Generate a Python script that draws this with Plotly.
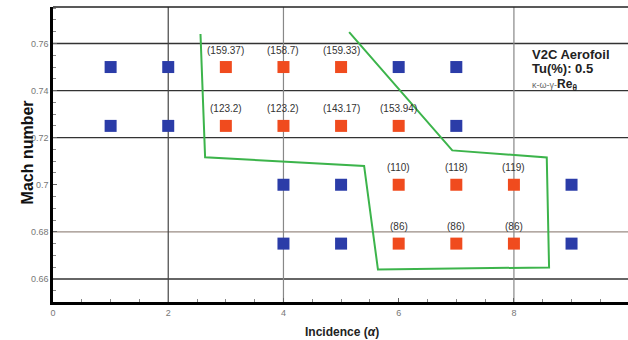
import plotly.graph_objects as go

# Test points (incidence, Mach) that do not meet the criterion (blue)
blue_inc = [1, 2, 6, 7, 1, 2, 7, 4, 5, 9, 4, 5, 9]
blue_mach = [0.75, 0.75, 0.75, 0.75, 0.725, 0.725, 0.725, 0.70, 0.70, 0.70, 0.675, 0.675, 0.675]

# Test points inside the region (red), with their labelled values
red_inc = [3, 4, 5, 3, 4, 5, 6, 6, 7, 8, 6, 7, 8]
red_mach = [0.75, 0.75, 0.75, 0.725, 0.725, 0.725, 0.725, 0.70, 0.70, 0.70, 0.675, 0.675, 0.675]
red_labels = ["(159.37)", "(158.7)", "(159.33)",
              "(123.2)", "(123.2)", "(143.17)", "(153.94)",
              "(110)", "(118)", "(119)",
              "(86)", "(86)", "(86)"]

# Green boundary polyline (incidence, Mach)
bound_inc = [2.56, 2.64, 5.40, 5.64, 8.61, 8.57, 6.93, 5.14]
bound_mach = [0.764, 0.7117, 0.708, 0.664, 0.6649, 0.7116, 0.7146, 0.7648]

x_ticks = [0, 2, 4, 6, 8]
x_ticktext = ["0", "2", "4", "6", "8"]
y_ticks = [0.66, 0.68, 0.70, 0.72, 0.74, 0.76]
y_ticktext = ["0.66", "0.68", "0.7", "0.72", "0.74", "0.76"]

FONT = "Arial, Liberation Sans, sans-serif"

fig = go.Figure()

fig.add_trace(go.Scatter(x=bound_inc, y=bound_mach, mode="lines",
                         line=dict(color="#3cb44b", width=2), hoverinfo="skip",
                         showlegend=False))
fig.add_trace(go.Scatter(x=blue_inc, y=blue_mach, mode="markers",
                         marker=dict(symbol="square", size=12, color="#2b3ca8",
                                     line=dict(width=0)),
                         showlegend=False))
fig.add_trace(go.Scatter(x=red_inc, y=red_mach, mode="markers",
                         marker=dict(symbol="square", size=12, color="#f04b1e",
                                     line=dict(width=0)),
                         showlegend=False))

for xi, yi, lab in zip(red_inc, red_mach, red_labels):
    fig.add_annotation(x=xi, y=yi, text=lab, showarrow=False, xref="x", yref="y",
                       yshift=17, font=dict(family=FONT, size=10, color="#333333"))

shapes = []
# horizontal grid lines
for yv, col in [(0.76, "#333333"), (0.74, "#333333"), (0.72, "#333333"),
                (0.68, "#9a8c84"), (0.66, "#333333")]:
    shapes.append(dict(type="line", xref="paper", yref="y", x0=0, x1=1, y0=yv, y1=yv,
                       line=dict(color=col, width=1.4), layer="below"))
# vertical grid lines
for xv, col in [(2, "#444444"), (4, "#888888"), (8, "#888888")]:
    shapes.append(dict(type="line", xref="x", yref="paper", x0=xv, x1=xv, y0=0, y1=1,
                       line=dict(color=col, width=1.2), layer="below"))
# top border
shapes.append(dict(type="line", xref="paper", yref="paper", x0=0, x1=1, y0=1, y1=1,
                   line=dict(color="#222222", width=1.5)))

fig.update_layout(
    width=628, height=340,
    margin=dict(l=53, r=0, t=7, b=38),
    paper_bgcolor="white", plot_bgcolor="white",
    shapes=shapes,
    xaxis=dict(range=[0, 9.98], tickvals=x_ticks, ticktext=x_ticktext,
               showgrid=False, zeroline=False,
               showline=True, linecolor="black", linewidth=3,
               ticks="inside", ticklen=4, tickcolor="#666",
               minor=dict(ticks="inside", ticklen=3, dtick=0.5, tick0=0, tickcolor="#888"),
               tickfont=dict(family=FONT, size=9, color="#777777")),
    yaxis=dict(range=[0.6502, 0.7755], tickvals=y_ticks, ticktext=y_ticktext,
               showgrid=False, zeroline=False,
               showline=True, linecolor="black", linewidth=2.5,
               ticks="inside", ticklen=4, tickcolor="#666",
               minor=dict(ticks="inside", ticklen=3, dtick=0.005, tick0=0.66, tickcolor="#888"),
               tickfont=dict(family=FONT, size=9, color="#777777")),
)

# axis titles
fig.add_annotation(text="<b>Mach number</b>", xref="paper", yref="paper", x=-0.061, y=0.5085,
                   textangle=-90, showarrow=False,
                   font=dict(family=FONT, size=16, color="#111111"))
fig.add_annotation(text="<b>Incidence (<i>α</i>)</b>", xref="paper", yref="paper", x=0.5026, y=-0.1017,
                   showarrow=False, yanchor="middle",
                   font=dict(family=FONT, size=12, color="#222222"))

# legend-like text block
fig.add_annotation(text="<b>V2C Aerofoil</b>", xref="paper", yref="paper", x=0.8296, y=0.8373,
                   xanchor="left", yanchor="middle", showarrow=False,
                   font=dict(family=FONT, size=13, color="#222222"))
fig.add_annotation(text="<b>Tu(%): 0.5</b>", xref="paper", yref="paper", x=0.8296, y=0.7932,
                   xanchor="left", yanchor="middle", showarrow=False,
                   font=dict(family=FONT, size=13, color="#222222"))
fig.add_annotation(text="<span style='font-size:9px;color:#666'>κ-ω-γ-</span><b>Re<sub>θ</sub></b>",
                   xref="paper", yref="paper", x=0.8296, y=0.7356,
                   xanchor="left", yanchor="middle", showarrow=False,
                   font=dict(family=FONT, size=12, color="#222222"))

fig.write_html("out.html")
